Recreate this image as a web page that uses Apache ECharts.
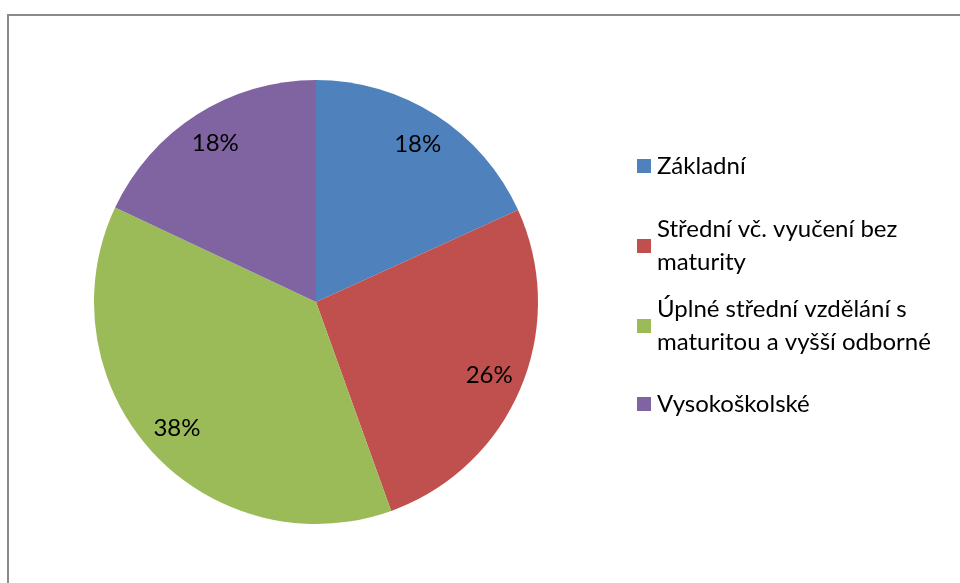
<!DOCTYPE html>
<html>
<head>
<meta charset="utf-8">
<script src="https://cdn.jsdelivr.net/npm/echarts@6/dist/echarts.min.js"></script>
<style>
    html, body { margin: 0; padding: 0; background: #fff; }
    #chart { width: 960px; height: 583px; }
</style>
</head>
<body>
<div id="chart"></div>
<script>
'use strict';

var categories = [
    'Základní',
    'Střední vč. vyučení bez maturity',
    'Úplné střední vzdělání s maturitou a vyšší odborné',
    'Vysokoškolské'
];
// legend text as wrapped in the picture
var legendLabels = [
    'Základní',
    'Střední vč. vyučení bez\nmaturity',
    'Úplné střední vzdělání s\nmaturitou a vyšší odborné',
    'Vysokoškolské'
];
var shares = [18.2, 26.3, 37.5, 18.0];
var colors = ['#4F81BD', '#C0504D', '#9BBB59', '#8064A2'];

var FONT = 'Lato';
var cx = 316, cy = 302, R = 222;
var LINE_H = 33;
// icon centre y of each legend item
var legendIconY = [166, 246, 326, 404];

var chart = echarts.init(document.getElementById('chart'), null, {renderer: 'canvas'});

var pieData = categories.map(function (name, i) {
    return {name: name, value: shares[i], itemStyle: {color: colors[i]}};
});

var legends = categories.map(function (name, i) {
    var lines = legendLabels[i].split('\n').length;
    var padTop = (lines - 1) * LINE_H;
    var boxH = lines * LINE_H + padTop;
    return {
        orient: 'vertical',
        left: 637,
        top: legendIconY[i] - boxH / 2,
        padding: 0,
        itemWidth: 14,
        itemHeight: 14,
        itemGap: 0,
        icon: 'rect',
        data: [name],
        formatter: function () { return legendLabels[i]; },
        textStyle: {
            fontFamily: FONT,
            fontSize: 24,
            color: '#000',
            lineHeight: LINE_H,
            padding: [padTop, 0, 0, 1]
        }
    };
});

var option = {
    backgroundColor: '#fff',
    animation: false,
    color: colors,
    legend: legends,
    graphic: [{
        type: 'rect',
        shape: {x: 8, y: 15, width: 1200, height: 1200},
        style: {fill: null, stroke: '#8a8a8a', lineWidth: 2},
        silent: true
    }],
    series: [
        {
            name: 'pie',
            type: 'pie',
            center: [cx, cy],
            radius: [0, R],
            startAngle: 90,
            clockwise: true,
            label: {show: false},
            labelLine: {show: false},
            itemStyle: {borderWidth: 0},
            emphasis: {disabled: true},
            data: pieData
        },
        {
            // invisible ring only to hold the percent labels at ~0.83 R
            name: 'labels',
            type: 'pie',
            center: [cx, cy],
            radius: [148, R],
            startAngle: 90,
            clockwise: true,
            silent: true,
            itemStyle: {color: 'rgba(0,0,0,0)', borderWidth: 0},
            label: {
                show: true,
                position: 'inside',
                fontFamily: FONT,
                fontSize: 24,
                color: '#000',
                formatter: function (p) {
                    return Math.round(p.percent) + '%';
                }
            },
            labelLine: {show: false},
            emphasis: {disabled: true},
            data: categories.map(function (name, i) {
                return {name: name, value: shares[i]};
            })
        }
    ]
};

chart.setOption(option);
</script>
</body>
</html>
